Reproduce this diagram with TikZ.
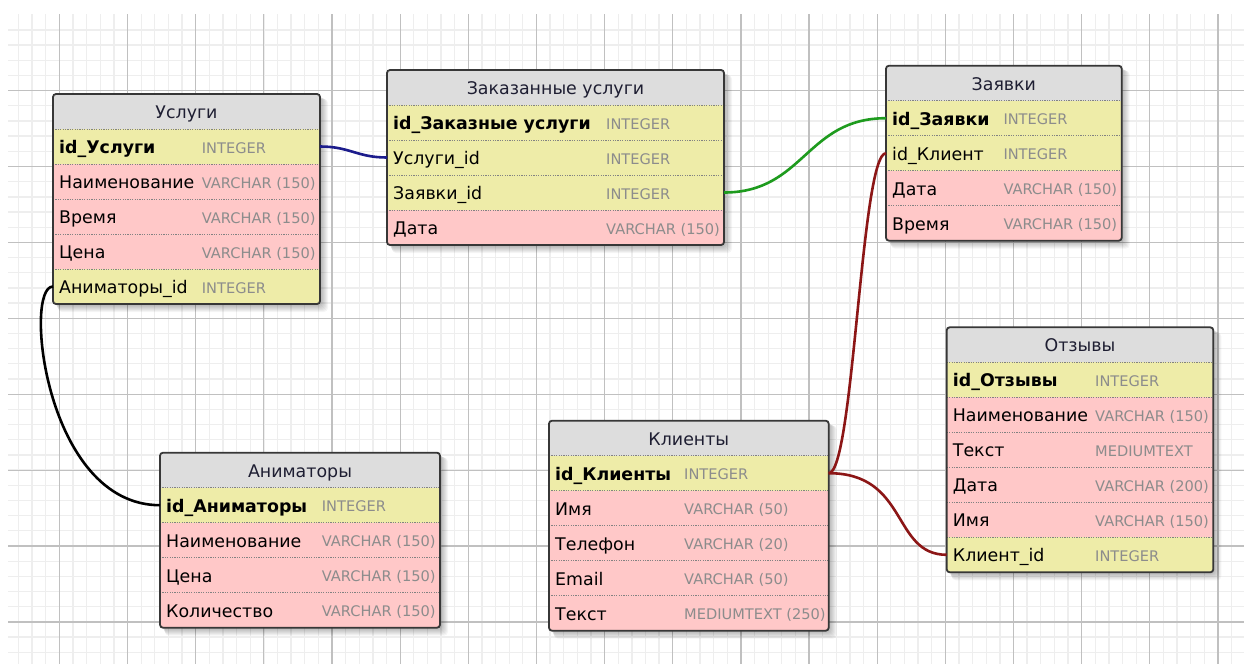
\documentclass[tikz,border=0pt]{standalone}
\usepackage{fontspec}
\setmainfont{DejaVu Sans}

\definecolor{gridlt}{RGB}{238,238,238}
\definecolor{griddk}{RGB}{192,192,192}
\definecolor{hdrgray}{RGB}{221,221,221}
\definecolor{rowkey}{RGB}{238,236,168}
\definecolor{rowpink}{RGB}{255,200,200}
\definecolor{sepgray}{RGB}{130,130,130}
\definecolor{typegray}{RGB}{140,140,140}
\definecolor{hdrink}{RGB}{30,30,50}
\definecolor{framegray}{RGB}{55,55,55}
\definecolor{linknavy}{RGB}{28,28,140}
\definecolor{linkgreen}{RGB}{30,155,30}
\definecolor{linkred}{RGB}{140,22,22}

% one table: name, left, top, width, type column offset, number of rows, title, rows
\newcommand{\erTable}[8]{%
  \pgfmathsetmacro\tblH{35*(#6+1)}%
  % soft shadow
  \foreach \k in {1,...,8}{%
    \fill[black, opacity=0.04, rounded corners=4pt] (#2+1+\k/2, #3+1+\k/2) rectangle (#2+#4+\k, #3+\tblH+\k);
  }
  \begin{scope}
    \clip[rounded corners=3pt] (#2,#3) rectangle (#2+#4, #3+\tblH);
    \node[hdrbox, minimum width=#4pt, anchor=north west] (#1-h) at (#2,#3) {};
    \node[hdrtext] (#1-title) at (#2+#4/2, #3+24.5) {#7};
    \foreach \nm/\ty/\st [count=\i] in {#8}{%
      \ifcase\st \def\rf{rowpink}\def\nf{}\or \def\rf{rowkey}\def\nf{\bfseries}\or \def\rf{rowkey}\def\nf{}\fi
      \node[rowbox, fill=\rf, minimum width=#4pt, anchor=north west] (#1-\i) at (#2, #3+35*\i) {};
      \draw[sepline] (#2, #3+35*\i) -- ++(#4,0);
      \node[nametext] (#1-\i-n) at (#2+6, #3+35*\i+24.5) {\nf\nm};
      \node[typetext] (#1-\i-t) at (#2+#5, #3+35*\i+24) {\ty};
    }
  \end{scope}
  \node[frame, minimum width=#4pt, minimum height=\tblH pt, anchor=north west] (#1) at (#2,#3) {};
}

\begin{document}
\begin{tikzpicture}[x=1pt, y=-1pt,
  gridminor/.style={draw=gridlt, line width=1.3pt},
  gridmajor/.style={draw=griddk, line width=1.2pt},
  rowbox/.style={rectangle, inner sep=0pt, outer sep=0pt, minimum height=35pt, draw=none},
  hdrbox/.style={rowbox, fill=hdrgray},
  sepline/.style={draw=sepgray, line width=1pt, dash pattern=on 1.2pt off 1.2pt},
  nametext/.style={anchor=base west, inner sep=0pt, text=black, font=\fontsize{17.4}{20}\selectfont},
  typetext/.style={anchor=base west, inner sep=0pt, text=typegray, font=\fontsize{14.6}{17}\selectfont},
  hdrtext/.style={anchor=base, inner sep=0pt, text=hdrink, font=\fontsize{17.4}{20}\selectfont},
  frame/.style={rectangle, draw=framegray, line width=1.8pt, rounded corners=3pt, inner sep=0pt, outer sep=0pt},
  link/.style={line width=2.6pt}]

\useasboundingbox (0,0) rectangle (1244,664);
\fill[white] (0,0) rectangle (1244,664);

% background grid
\begin{scope}
  \clip (8,14) rectangle (1244,664);
  \foreach \i in {-4,...,87} { \draw[gridminor] ({59.4+13.63*\i},14) -- ++(0,650); }
  \foreach \j in {1,...,43} { \draw[gridminor] (8,{14.7+15.18*\j}) -- ++(1236,0); }
  \foreach \i in {-1,...,17} { \draw[gridmajor] ({59.4+68.15*\i},14) -- ++(0,650); }
  \foreach \j in {1,...,8} { \draw[gridmajor] (8,{14.7+75.9*\j}) -- ++(1236,0); }
\end{scope}

\erTable{usl}{53}{94}{267}{148.7}{5}{Услуги}{%
  {id\_Услуги}/{INTEGER}/1,{Наименование}/{VARCHAR (150)}/0,{Время}/{VARCHAR (150)}/0,{Цена}/{VARCHAR (150)}/0,{Аниматоры\_id}/{INTEGER}/2}

\erTable{zak}{387}{70}{337}{219}{4}{Заказанные услуги}{%
  {id\_Заказные услуги}/{INTEGER}/1,{Услуги\_id}/{INTEGER}/2,{Заявки\_id}/{INTEGER}/2,{Дата}/{VARCHAR (150)}/0}

\erTable{zay}{886}{65.7}{235.7}{117.3}{4}{Заявки}{%
  {id\_Заявки}/{INTEGER}/1,{id\_Клиент}/{INTEGER}/2,{Дата}/{VARCHAR (150)}/0,{Время}/{VARCHAR (150)}/0}

\erTable{kli}{549}{420.7}{279.7}{135}{5}{Клиенты}{%
  {id\_Клиенты}/{INTEGER}/1,{Имя}/{VARCHAR (50)}/0,{Телефон}/{VARCHAR (20)}/0,{Email}/{VARCHAR (50)}/0,{Текст}/{MEDIUMTEXT (250)}/0}

\erTable{otz}{946.7}{327.3}{266.6}{148.3}{6}{Отзывы}{%
  {id\_Отзывы}/{INTEGER}/1,{Наименование}/{VARCHAR (150)}/0,{Текст}/{MEDIUMTEXT}/0,{Дата}/{VARCHAR (200)}/0,{Имя}/{VARCHAR (150)}/0,{Клиент\_id}/{INTEGER}/2}

\erTable{ani}{160}{452.7}{280}{161.7}{4}{Аниматоры}{%
  {id\_Аниматоры}/{INTEGER}/1,{Наименование}/{VARCHAR (150)}/0,{Цена}/{VARCHAR (150)}/0,{Количество}/{VARCHAR (150)}/0}

% relations
\draw[link, linknavy] (usl-1.east) .. controls +(30,0) and +(-30,0) .. (zak-2.west);
\draw[link, black] (usl-5.west) .. controls +(-30,0) and +(-115,0) .. (ani-1.west);
\draw[link, linkgreen] (zak-3.east) .. controls +(80,0) and +(-80,0) .. (zay-1.west);
\draw[link, linkred] (kli-1.east) .. controls +(25,0) and +(-25,0) .. (zay-2.west);
\draw[link, linkred] (kli-1.east) .. controls +(80,0) and +(-55,0) .. (otz-6.west);

\end{tikzpicture}
\end{document}
